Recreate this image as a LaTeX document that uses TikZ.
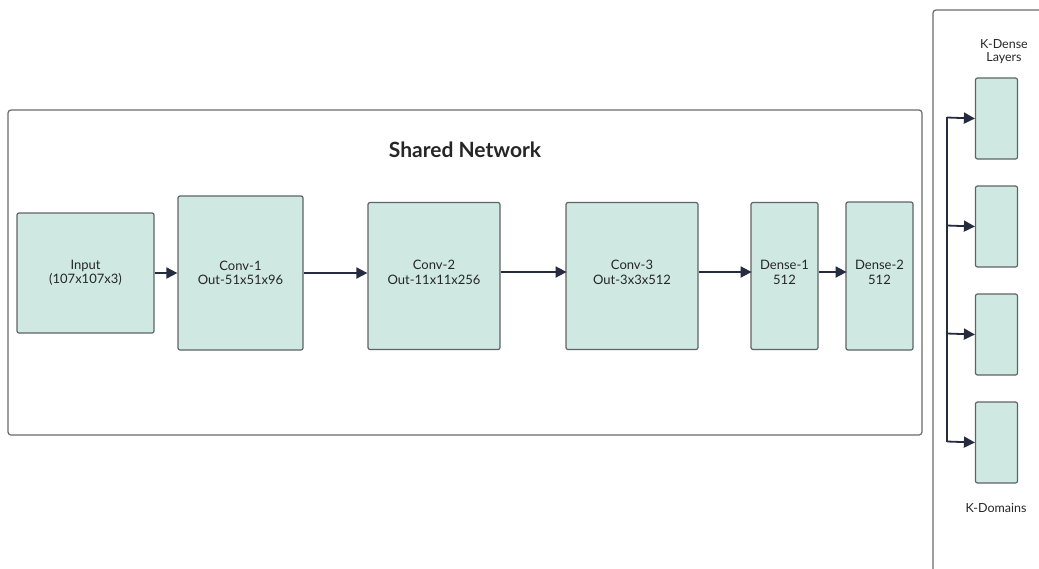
\documentclass[tikz,border=0pt]{standalone}
\usepackage{fontspec}
\setmainfont{Lato}
\usepackage{tikz}
\definecolor{layerfill}{HTML}{CFE9E2}
\definecolor{layerline}{HTML}{5F6266}
\definecolor{frameline}{HTML}{6A6A6A}
\definecolor{arrowcol}{HTML}{262B40}
\tikzstyle{layer} = [rectangle, rounded corners=2pt, draw = layerline, line width=1.2pt, fill = layerfill, text centered, align=center, inner sep=0pt, font=\fontsize{13}{14.5}\selectfont, text=black!85]
\tikzstyle{frame} = [draw = frameline, line width=1.2pt, rounded corners=3pt]
\tikzstyle{arrow} = [-{Triangle[length=11pt,width=11pt]}, draw = arrowcol, line width=1.8pt]
\usetikzlibrary{arrows.meta, positioning}

\begin{document}
\begin{tikzpicture}[x=1pt, y=-1pt]
      \useasboundingbox (0,0) rectangle (1039,568);
      % outer frames
      \draw[frame] (8,110) rectangle (922,435);
      \draw[frame] (1060,600) -- (933,600) -- (933,10) -- (1060,10);
      \node[font=\fontsize{21}{24}\selectfont\bfseries, text=black!85] (title) at (465,150) {Shared Network};

      % shared layers
      \node[layer, minimum width=137pt, minimum height=120pt] (in) at (85.5,273) {Input\\(107x107x3)};
      \node[layer, minimum width=125pt, minimum height=154pt] (conv1) at (240.5,273) {Conv-1\\Out-51x51x96};
      \node[layer, minimum width=132pt, minimum height=147pt, text depth=7pt] (conv2) at (434,276) {Conv-2\\Out-11x11x256};
      \node[layer, minimum width=132pt, minimum height=147pt, text depth=7pt] (conv3) at (632,276) {Conv-3\\Out-3x3x512};
      \node[layer, minimum width=67pt, minimum height=147pt, text depth=7pt] (dense1) at (784.5,276) {Dense-1\\512};
      \node[layer, minimum width=67pt, minimum height=148pt, text depth=7pt] (dense2) at (879.5,276) {Dense-2\\512};

      \draw[arrow](in) -- (conv1);
      \draw[arrow](conv1.east |- in) -- (conv2.west |- in);
      \draw[arrow](conv2.west -| conv2.east) ++(0,-4) -- ++(66,0);
      \draw[arrow](conv3.west -| conv3.east) ++(0,-4) -- ++(53,0);
      \draw[arrow](dense1.east) ++(0,-4) -- ++(28,0);

      % domain specific layers
      \node[font=\fontsize{12.5}{13.5}\selectfont, align=center, text=black!85] (klayers) at (1004,51.5) {K-Dense\\Layers};
      \foreach \i/\y in {1/118.5, 2/226.5, 3/334.5, 4/442.5}
        \node[layer, minimum width=42pt, minimum height=81pt] (dom\i) at (996.5,\y) {};
      \node[font=\fontsize{12.5}{13.5}\selectfont, text=black!85] (kdomains) at (996,508) {K-Domains};

      \coordinate (top) at (947,117);
      \coordinate (bot) at (947,442);
      \draw[draw=arrowcol, line width=1.8pt] (top) -- (bot);
      \foreach \i in {1,...,4}
        \draw[arrow] (dom\i.west -| top) ++(0,-1) -- (dom\i.west);
    \end{tikzpicture}
\end{document}
